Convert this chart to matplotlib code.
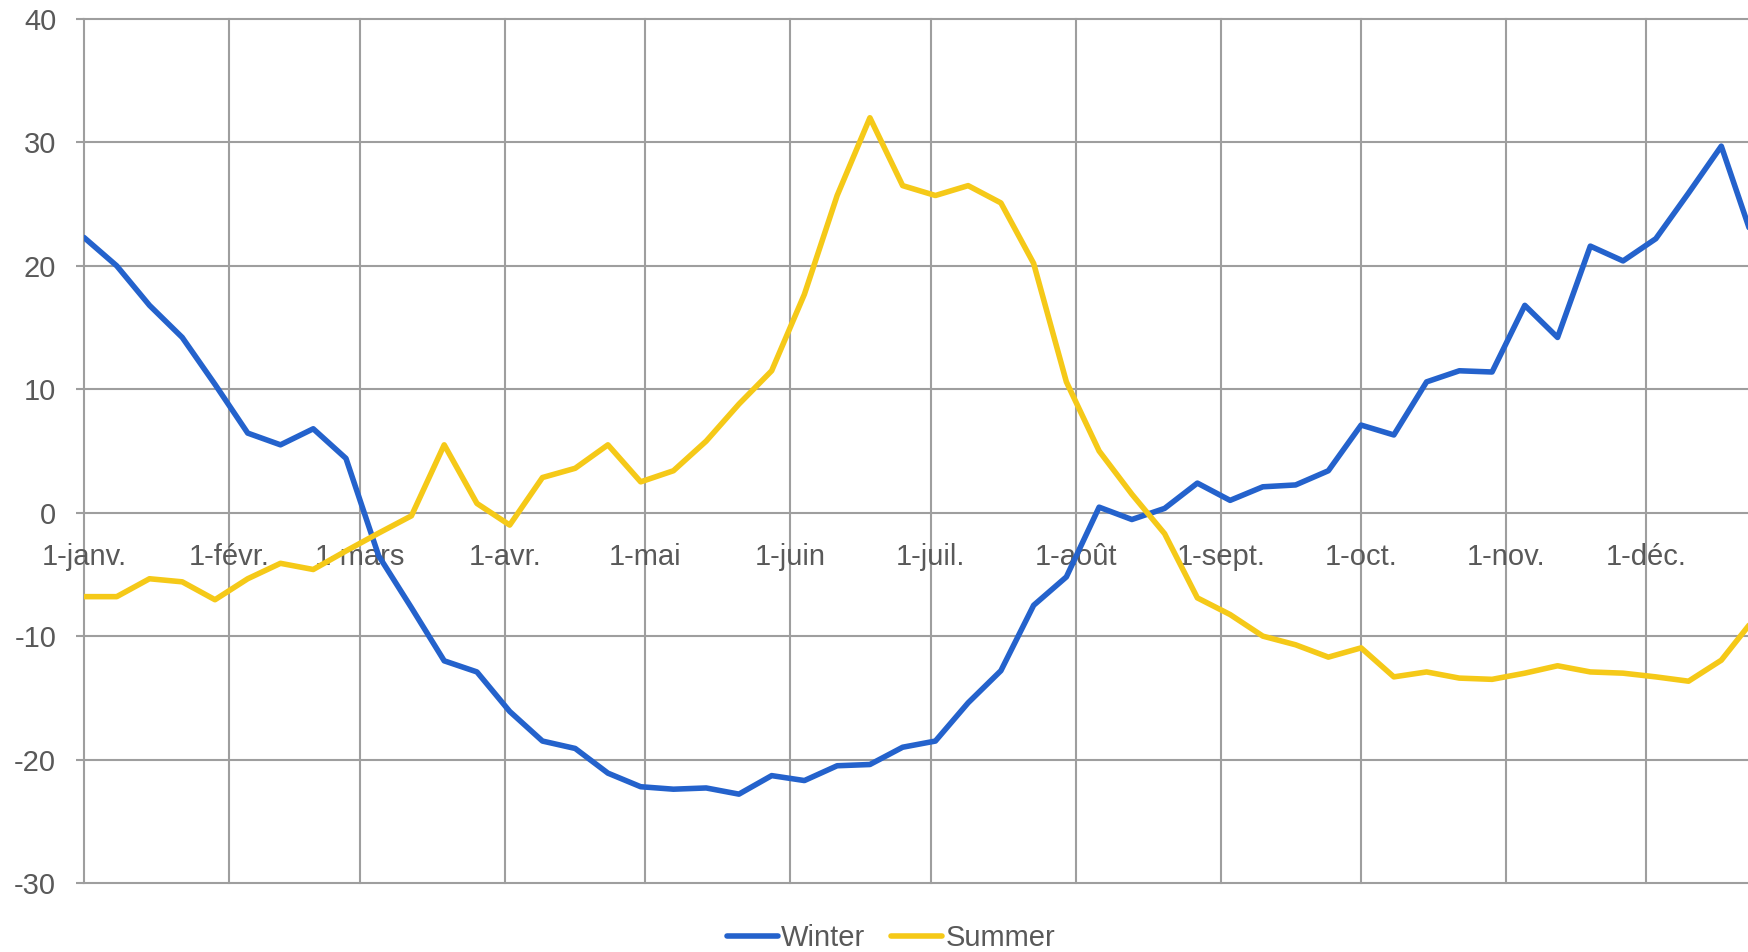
import numpy as np
import pandas as pd
import matplotlib
matplotlib.use("Agg")
import matplotlib.pyplot as plt

# ---- data ----
weeks = pd.date_range("2023-01-01", periods=52, freq="7D")
winter = [22.3, 20.0, 16.8, 14.2, 10.4, 6.45, 5.5, 6.8, 4.4, -3.5,
          -7.7, -12.0, -12.9, -16.1, -18.5, -19.1, -21.1, -22.2, -22.4, -22.3,
          -22.8, -21.3, -21.7, -20.5, -20.4, -19.0, -18.5, -15.4, -12.8, -7.5,
          -5.2, 0.45, -0.55, 0.35, 2.4, 1.0, 2.1, 2.25, 3.4, 7.1,
          6.3, 10.6, 11.5, 11.4, 16.8, 14.2, 21.6, 20.4, 22.2, 25.9,
          29.7, 21.9]
summer = [-6.8, -6.8, -5.35, -5.6, -7.05, -5.35, -4.1, -4.6, -3.1, -1.65,
          -0.25, 5.5, 0.75, -1.0, 2.85, 3.6, 5.5, 2.5, 3.4, 5.8,
          8.8, 11.5, 17.7, 25.7, 32.0, 26.5, 25.7, 26.5, 25.1, 20.2,
          10.6, 5.0, 1.5, -1.7, -6.9, -8.25, -10.0, -10.7, -11.7, -10.95,
          -13.3, -12.9, -13.4, -13.5, -13.0, -12.4, -12.9, -13.0, -13.3, -13.65,
          -11.95, -8.6]
month_ticks = pd.date_range("2023-01-01", periods=12, freq="MS")
month_labels = ["1-janv.", "1-févr.", "1-mars", "1-avr.", "1-mai", "1-juin",
                "1-juil.", "1-août", "1-sept.", "1-oct.", "1-nov.", "1-déc."]
y_ticks = [-30, -20, -10, 0, 10, 20, 30, 40]
series_names = ["Winter", "Summer"]

# ---- style ----
plt.rcParams["font.family"] = ["Liberation Sans", "DejaVu Sans"]
text_color = "#595959"
grid_color = "#9e9e9e"
blue = "#2462CC"
yellow = "#F5C918"
fs = 21

W, H = 1749, 952
fig = plt.figure(figsize=(W / 100, H / 100), dpi=100)
left_px, top_px, bottom_px = 84, 19, 883
px_per_day = 4.678
xstart = pd.Timestamp("2023-01-01")
xend = pd.Timestamp("2023-12-31")
width_px = (xend - xstart).days * px_per_day
ax = fig.add_axes([left_px / W, (H - bottom_px) / H, width_px / W, (bottom_px - top_px) / H])

l1, = ax.plot(weeks, winter, color=blue, lw=4.0, solid_joinstyle="round",
              solid_capstyle="round", label=series_names[0], zorder=3)
l2, = ax.plot(weeks, summer, color=yellow, lw=4.0, solid_joinstyle="round",
              solid_capstyle="round", label=series_names[1], zorder=3)

ax.set_xlim(xstart, xend)
ax.set_ylim(-30, 40)
ax.set_yticks(y_ticks)
ax.set_yticklabels([str(v) for v in y_ticks])
ax.set_xticks(month_ticks)
ax.set_xticklabels(month_labels)

for s in ax.spines.values():
    s.set_visible(False)
ax.spines["bottom"].set_position(("data", 0))

ax.grid(True, color=grid_color, lw=1.5)
for gl in ax.get_ygridlines() + ax.get_xgridlines():
    gl.set_clip_on(False)

ax.tick_params(axis="y", length=6, width=1.5, color=grid_color, direction="out",
               pad=14, labelsize=fs, labelcolor=text_color)
ax.tick_params(axis="x", length=0, pad=22, labelsize=fs, labelcolor=text_color)

fig.legend(handles=[l1, l2], loc="center", bbox_to_anchor=(891 / W, 1 - 938 / H),
           ncol=2, frameon=False, fontsize=fs, handlelength=1.75,
           handletextpad=0.1, columnspacing=0.9, labelcolor=text_color)

fig.savefig("out.png", dpi=100)
